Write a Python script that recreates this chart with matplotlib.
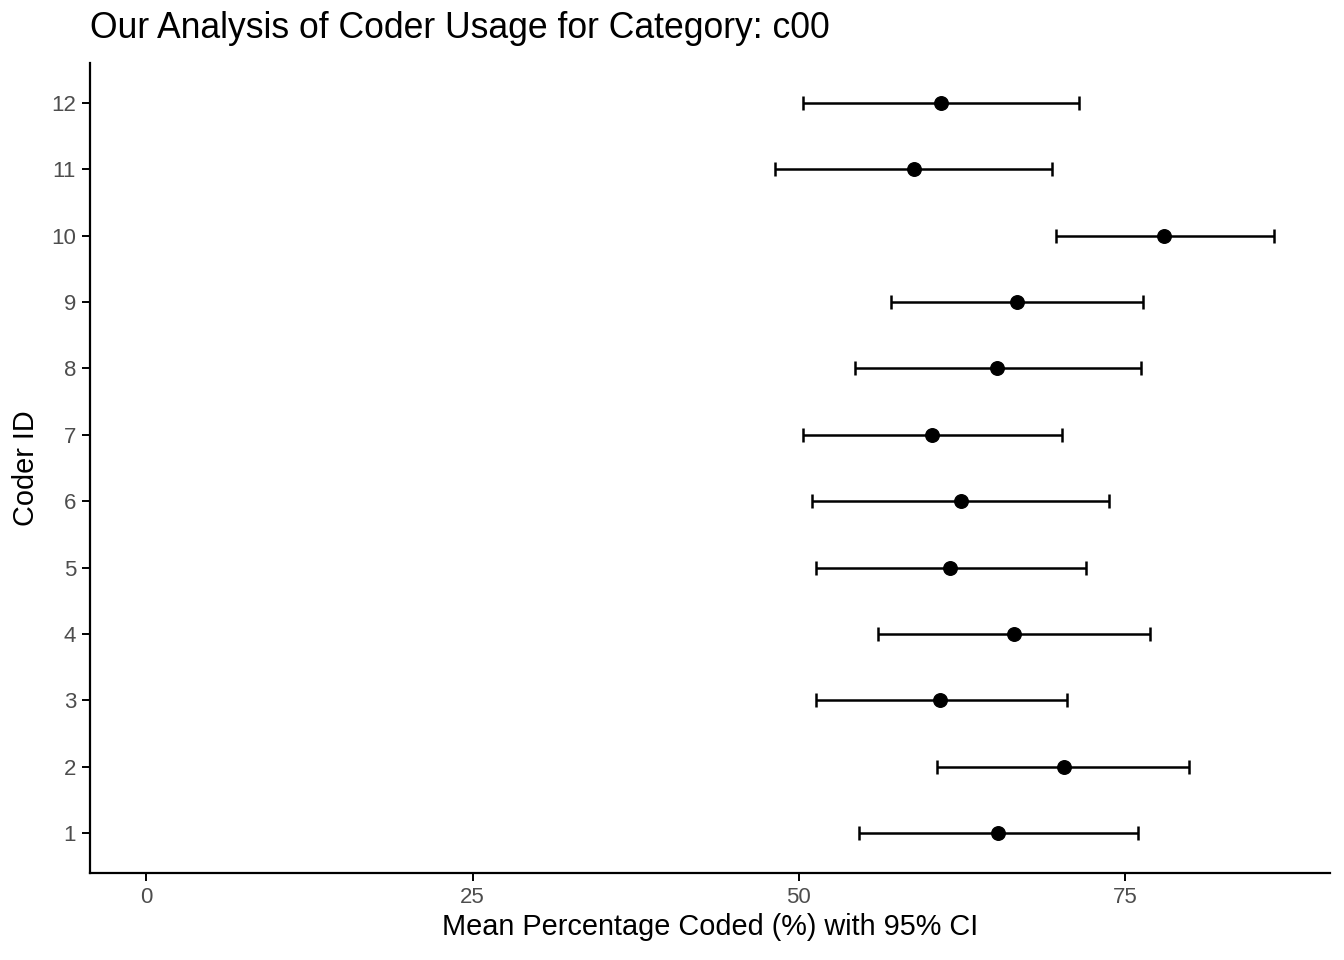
import matplotlib.pyplot as plt

plt.rcParams["font.family"] = ["Liberation Sans", "DejaVu Sans"]

coder_ids = [1, 2, 3, 4, 5, 6, 7, 8, 9, 10, 11, 12]
mean_pct = [65.3, 70.3, 60.8, 66.5, 61.6, 62.4, 60.2, 65.2, 66.7, 78.0, 58.8, 60.9]
ci_low = [54.6, 60.6, 51.3, 56.1, 51.3, 51.0, 50.3, 54.3, 57.1, 69.7, 48.2, 50.3]
ci_high = [76.0, 79.9, 70.6, 76.9, 72.0, 73.8, 70.2, 76.2, 76.4, 86.4, 69.4, 71.5]

err_lo = [m - l for m, l in zip(mean_pct, ci_low)]
err_hi = [h - m for m, h in zip(mean_pct, ci_high)]

fig = plt.figure(figsize=(13.44, 9.6), dpi=100)
ax = fig.add_axes([90 / 1344, 1 - 873 / 960, 1240 / 1344, 810 / 960])

ax.errorbar(mean_pct, coder_ids, xerr=[err_lo, err_hi], fmt="none",
            ecolor="black", elinewidth=1.8, capsize=5, capthick=1.8)
ax.scatter(mean_pct, coder_ids, s=95, color="black", zorder=3)

xmax = max(ci_high)
pad = xmax * 0.05
ax.set_xlim(-pad, xmax + pad)
ax.set_ylim(0.4, 12.6)
ax.set_xticks([0, 25, 50, 75])
ax.set_yticks(coder_ids)
ax.set_yticklabels([str(c) for c in coder_ids])

for side in ["top", "right"]:
    ax.spines[side].set_visible(False)
for side in ["left", "bottom"]:
    ax.spines[side].set_linewidth(1.6)
ax.tick_params(axis="both", labelcolor="#4D4D4D", color="black",
               labelsize=16, length=6, width=1.4, pad=4)

ax.set_xlabel("Mean Percentage Coded (%) with 95% CI", fontsize=20.8, labelpad=4)
ax.set_ylabel("Coder ID", fontsize=20.8, labelpad=8)
fig.text(90 / 1344, 1 - 29 / 960, "Our Analysis of Coder Usage for Category: c00",
         fontsize=25.6, va="center", ha="left")

fig.savefig("out.png", dpi=100)
